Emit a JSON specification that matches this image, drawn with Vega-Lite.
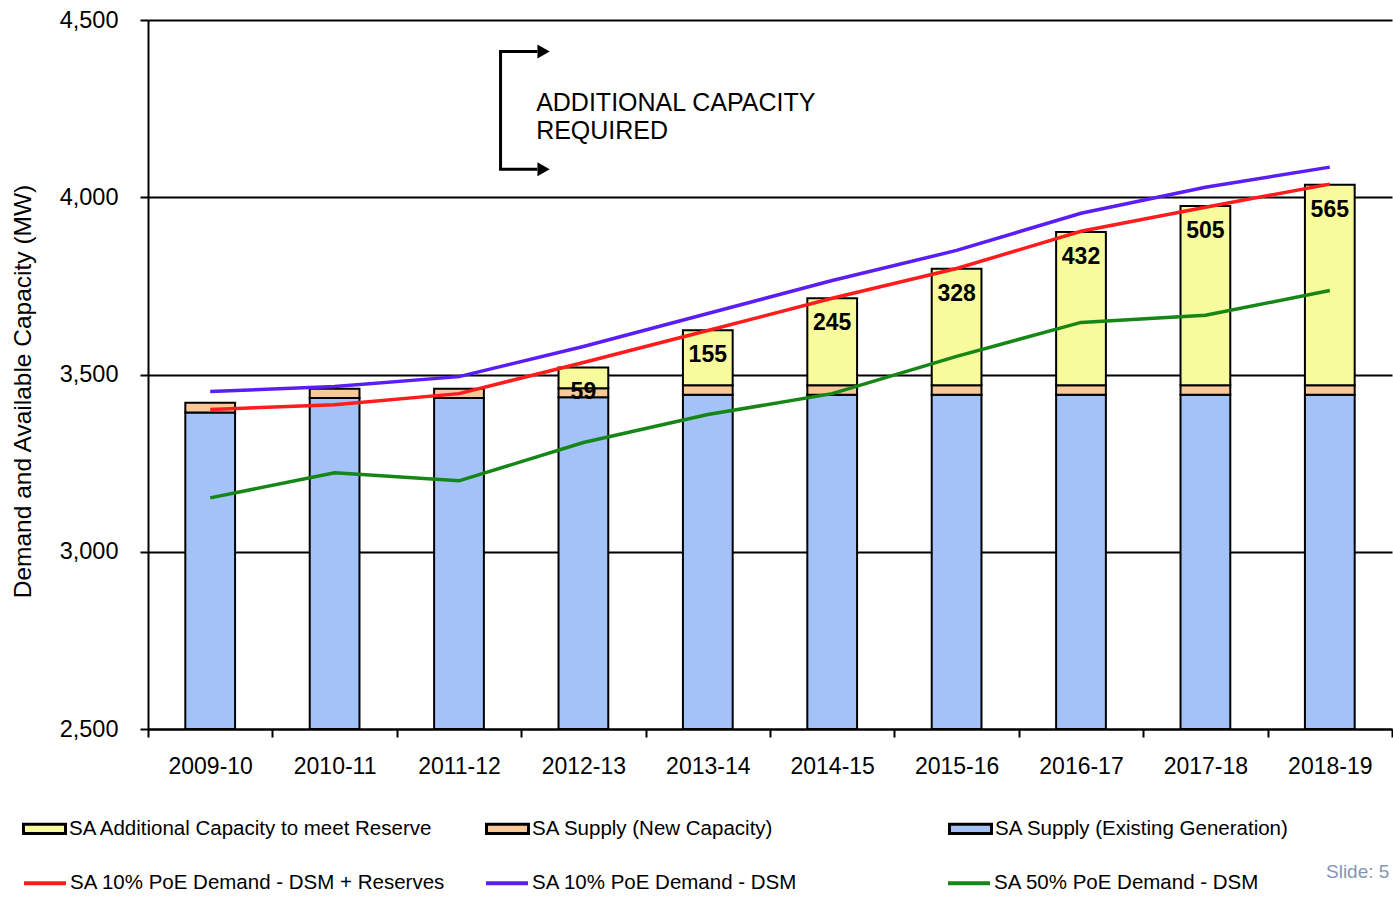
{
  "$schema": "https://vega.github.io/schema/vega-lite/v6.json",
  "width": 1244,
  "height": 709,
  "autosize": {"type": "none"},
  "padding": {"left": 148, "top": 20, "right": 1, "bottom": 169},
  "background": "white",
  "config": {"font": "Liberation Sans", "view": {"stroke": null}},
  "datasets": {
    "bars": [
      {"year": "2009-10", "series": "SA Supply (Existing Generation)", "stack_order": 1, "value": 3393},
      {"year": "2009-10", "series": "SA Supply (New Capacity)", "stack_order": 2, "value": 27},
      {"year": "2010-11", "series": "SA Supply (Existing Generation)", "stack_order": 1, "value": 3434},
      {"year": "2010-11", "series": "SA Supply (New Capacity)", "stack_order": 2, "value": 26},
      {"year": "2011-12", "series": "SA Supply (Existing Generation)", "stack_order": 1, "value": 3434},
      {"year": "2011-12", "series": "SA Supply (New Capacity)", "stack_order": 2, "value": 26},
      {"year": "2012-13", "series": "SA Supply (Existing Generation)", "stack_order": 1, "value": 3436},
      {"year": "2012-13", "series": "SA Supply (New Capacity)", "stack_order": 2, "value": 25},
      {"year": "2012-13", "series": "SA Additional Capacity to meet Reserve", "stack_order": 3, "value": 59},
      {"year": "2013-14", "series": "SA Supply (Existing Generation)", "stack_order": 1, "value": 3443},
      {"year": "2013-14", "series": "SA Supply (New Capacity)", "stack_order": 2, "value": 27},
      {"year": "2013-14", "series": "SA Additional Capacity to meet Reserve", "stack_order": 3, "value": 155},
      {"year": "2014-15", "series": "SA Supply (Existing Generation)", "stack_order": 1, "value": 3443},
      {"year": "2014-15", "series": "SA Supply (New Capacity)", "stack_order": 2, "value": 27},
      {"year": "2014-15", "series": "SA Additional Capacity to meet Reserve", "stack_order": 3, "value": 245},
      {"year": "2015-16", "series": "SA Supply (Existing Generation)", "stack_order": 1, "value": 3443},
      {"year": "2015-16", "series": "SA Supply (New Capacity)", "stack_order": 2, "value": 27},
      {"year": "2015-16", "series": "SA Additional Capacity to meet Reserve", "stack_order": 3, "value": 328},
      {"year": "2016-17", "series": "SA Supply (Existing Generation)", "stack_order": 1, "value": 3443},
      {"year": "2016-17", "series": "SA Supply (New Capacity)", "stack_order": 2, "value": 27},
      {"year": "2016-17", "series": "SA Additional Capacity to meet Reserve", "stack_order": 3, "value": 432},
      {"year": "2017-18", "series": "SA Supply (Existing Generation)", "stack_order": 1, "value": 3443},
      {"year": "2017-18", "series": "SA Supply (New Capacity)", "stack_order": 2, "value": 27},
      {"year": "2017-18", "series": "SA Additional Capacity to meet Reserve", "stack_order": 3, "value": 505},
      {"year": "2018-19", "series": "SA Supply (Existing Generation)", "stack_order": 1, "value": 3443},
      {"year": "2018-19", "series": "SA Supply (New Capacity)", "stack_order": 2, "value": 27},
      {"year": "2018-19", "series": "SA Additional Capacity to meet Reserve", "stack_order": 3, "value": 565}
    ],
    "lines": [
      {"year": "2009-10", "series": "SA 10% PoE Demand - DSM + Reserves", "value": 3401},
      {"year": "2010-11", "series": "SA 10% PoE Demand - DSM + Reserves", "value": 3415},
      {"year": "2011-12", "series": "SA 10% PoE Demand - DSM + Reserves", "value": 3446},
      {"year": "2012-13", "series": "SA 10% PoE Demand - DSM + Reserves", "value": 3534},
      {"year": "2013-14", "series": "SA 10% PoE Demand - DSM + Reserves", "value": 3624},
      {"year": "2014-15", "series": "SA 10% PoE Demand - DSM + Reserves", "value": 3715},
      {"year": "2015-16", "series": "SA 10% PoE Demand - DSM + Reserves", "value": 3799},
      {"year": "2016-17", "series": "SA 10% PoE Demand - DSM + Reserves", "value": 3904},
      {"year": "2017-18", "series": "SA 10% PoE Demand - DSM + Reserves", "value": 3972},
      {"year": "2018-19", "series": "SA 10% PoE Demand - DSM + Reserves", "value": 4037},
      {"year": "2009-10", "series": "SA 10% PoE Demand - DSM", "value": 3452},
      {"year": "2010-11", "series": "SA 10% PoE Demand - DSM", "value": 3466},
      {"year": "2011-12", "series": "SA 10% PoE Demand - DSM", "value": 3494},
      {"year": "2012-13", "series": "SA 10% PoE Demand - DSM", "value": 3579},
      {"year": "2013-14", "series": "SA 10% PoE Demand - DSM", "value": 3672},
      {"year": "2014-15", "series": "SA 10% PoE Demand - DSM", "value": 3765},
      {"year": "2015-16", "series": "SA 10% PoE Demand - DSM", "value": 3850},
      {"year": "2016-17", "series": "SA 10% PoE Demand - DSM", "value": 3955},
      {"year": "2017-18", "series": "SA 10% PoE Demand - DSM", "value": 4028},
      {"year": "2018-19", "series": "SA 10% PoE Demand - DSM", "value": 4085},
      {"year": "2009-10", "series": "SA 50% PoE Demand - DSM", "value": 3152},
      {"year": "2010-11", "series": "SA 50% PoE Demand - DSM", "value": 3223},
      {"year": "2011-12", "series": "SA 50% PoE Demand - DSM", "value": 3200},
      {"year": "2012-13", "series": "SA 50% PoE Demand - DSM", "value": 3308},
      {"year": "2013-14", "series": "SA 50% PoE Demand - DSM", "value": 3387},
      {"year": "2014-15", "series": "SA 50% PoE Demand - DSM", "value": 3446},
      {"year": "2015-16", "series": "SA 50% PoE Demand - DSM", "value": 3551},
      {"year": "2016-17", "series": "SA 50% PoE Demand - DSM", "value": 3647},
      {"year": "2017-18", "series": "SA 50% PoE Demand - DSM", "value": 3667},
      {"year": "2018-19", "series": "SA 50% PoE Demand - DSM", "value": 3737}
    ]
  },
  "title": {
    "text": "Slide: 5",
    "orient": "bottom",
    "anchor": "start",
    "frame": "group",
    "dx": 1178,
    "offset": -31,
    "font": "Liberation Sans",
    "fontSize": 19,
    "fontWeight": "normal",
    "color": "#8496b4"
  },
  "layer": [
    {
      "data": {"name": "bars"},
      "mark": {"type": "bar", "stroke": "black", "strokeWidth": 2, "width": {"band": 0.4}},
      "encoding": {
        "x": {
          "field": "year",
          "type": "nominal",
          "sort": null,
          "scale": {
            "domain": ["2009-10", "2010-11", "2011-12", "2012-13", "2013-14", "2014-15", "2015-16", "2016-17", "2017-18", "2018-19"],
            "paddingInner": 0,
            "paddingOuter": 0
          },
          "axis": {
            "title": null,
            "labelAngle": 0,
            "labelFont": "Liberation Sans",
            "labelFontSize": 23,
            "labelColor": "black",
            "labelPadding": 18,
            "tickBand": "extent",
            "tickSize": 8,
            "tickWidth": 2,
            "tickColor": "black",
            "domainColor": "black",
            "domainWidth": 2,
            "grid": false
          }
        },
        "y": {
          "field": "value",
          "type": "quantitative",
          "stack": "zero",
          "scale": {"domain": [2500, 4500], "clamp": true, "nice": false, "zero": false},
          "axis": {
            "title": "Demand and Available Capacity (MW)",
            "titleFont": "Liberation Sans",
            "titleFontSize": 24.5,
            "titleFontWeight": "normal",
            "titleColor": "black",
            "titleX": -125,
            "titleY": 371,
            "titleAngle": -90,
            "titleAlign": "center",
            "titleBaseline": "middle",
            "values": [2500, 3000, 3500, 4000, 4500],
            "format": ",.0f",
            "labelFont": "Liberation Sans",
            "labelFontSize": 23.5,
            "labelColor": "black",
            "labelPadding": 22,
            "tickSize": 8,
            "tickWidth": 2,
            "tickColor": "black",
            "domainColor": "black",
            "domainWidth": 2,
            "grid": true,
            "gridColor": "black",
            "gridWidth": 2,
            "gridOpacity": 1
          }
        },
        "fill": {
          "field": "series",
          "type": "nominal",
          "scale": {
            "domain": ["SA Additional Capacity to meet Reserve", "SA Supply (New Capacity)", "SA Supply (Existing Generation)"],
            "range": ["#f7fb9b", "#f8c898", "#a3c3f8"]
          },
          "legend": {
            "title": null,
            "orient": "none",
            "legendX": -126,
            "legendY": 786,
            "direction": "horizontal",
            "columns": 3,
            "gridAlign": "all",
            "columnPadding": 46,
            "padding": 0,
            "symbolType": "M-1,-0.22H1V0.22H-1Z",
            "symbolSize": 1764,
            "symbolStrokeColor": "black",
            "symbolStrokeWidth": 3,
            "symbolOpacity": 1,
            "labelFont": "Liberation Sans",
            "labelFontSize": 20.5,
            "labelColor": "black",
            "labelOffset": 2,
            "labelLimit": 600
          }
        },
        "order": {"field": "stack_order", "type": "quantitative"}
      }
    },
    {
      "data": {"name": "bars"},
      "transform": [
        {"joinaggregate": [{"op": "sum", "field": "value", "as": "total"}], "groupby": ["year"]},
        {"filter": "datum.series === 'SA Additional Capacity to meet Reserve'"}
      ],
      "mark": {"type": "text", "font": "Liberation Sans", "fontWeight": "bold", "fontSize": 23, "baseline": "alphabetic", "dy": 32, "color": "black"},
      "encoding": {
        "x": {"field": "year", "type": "nominal", "sort": null},
        "y": {"field": "total", "type": "quantitative"},
        "text": {"field": "value", "type": "quantitative"}
      }
    },
    {
      "data": {"name": "lines"},
      "mark": {"type": "line", "strokeWidth": 3.5},
      "encoding": {
        "x": {"field": "year", "type": "nominal", "sort": null},
        "y": {"field": "value", "type": "quantitative"},
        "stroke": {
          "field": "series",
          "type": "nominal",
          "scale": {
            "domain": ["SA 10% PoE Demand - DSM + Reserves", "SA 10% PoE Demand - DSM", "SA 50% PoE Demand - DSM"],
            "range": ["#ff1c1c", "#5a1ef5", "#168716"]
          },
          "legend": {
            "title": null,
            "orient": "none",
            "legendX": -126,
            "legendY": 840,
            "direction": "horizontal",
            "columns": 3,
            "gridAlign": "all",
            "columnPadding": 32,
            "padding": 0,
            "symbolType": "stroke",
            "symbolSize": 1764,
            "symbolStrokeWidth": 4,
            "labelFont": "Liberation Sans",
            "labelFontSize": 20.5,
            "labelColor": "black",
            "labelOffset": 2,
            "labelLimit": 600
          }
        }
      }
    },
    {
      "data": {"values": [{"year": "2011-12", "top": 4411, "bottom": 4079}]},
      "mark": {"type": "rule", "color": "black", "strokeWidth": 3},
      "encoding": {
        "x": {"field": "year", "type": "nominal", "bandPosition": 0.834},
        "y": {"field": "top", "type": "quantitative"},
        "y2": {"field": "bottom"}
      }
    },
    {
      "data": {"values": [{"year": "2011-12", "year_end": "2012-13", "level": 4411}, {"year": "2011-12", "year_end": "2012-13", "level": 4079}]},
      "mark": {"type": "rule", "color": "black", "strokeWidth": 3},
      "encoding": {
        "x": {"field": "year", "type": "nominal", "bandPosition": 0.822},
        "x2": {"field": "year_end", "bandPosition": 0.13},
        "y": {"field": "level", "type": "quantitative"}
      }
    },
    {
      "data": {"values": [{"year": "2012-13", "level": 4411}, {"year": "2012-13", "level": 4079}]},
      "mark": {"type": "point", "shape": "triangle-right", "filled": true, "color": "black", "opacity": 1, "size": 200},
      "encoding": {
        "x": {"field": "year", "type": "nominal", "bandPosition": 0.18},
        "y": {"field": "level", "type": "quantitative"}
      }
    },
    {
      "data": {"values": [{"year": "2012-13", "level": 4243, "label": "ADDITIONAL  CAPACITY"}, {"year": "2012-13", "level": 4164, "label": "REQUIRED"}]},
      "mark": {"type": "text", "align": "left", "baseline": "alphabetic", "font": "Liberation Sans", "fontSize": 25, "color": "black"},
      "encoding": {
        "x": {"field": "year", "type": "nominal", "bandPosition": 0.12},
        "y": {"field": "level", "type": "quantitative"},
        "text": {"field": "label", "type": "nominal"}
      }
    }
  ]
}
